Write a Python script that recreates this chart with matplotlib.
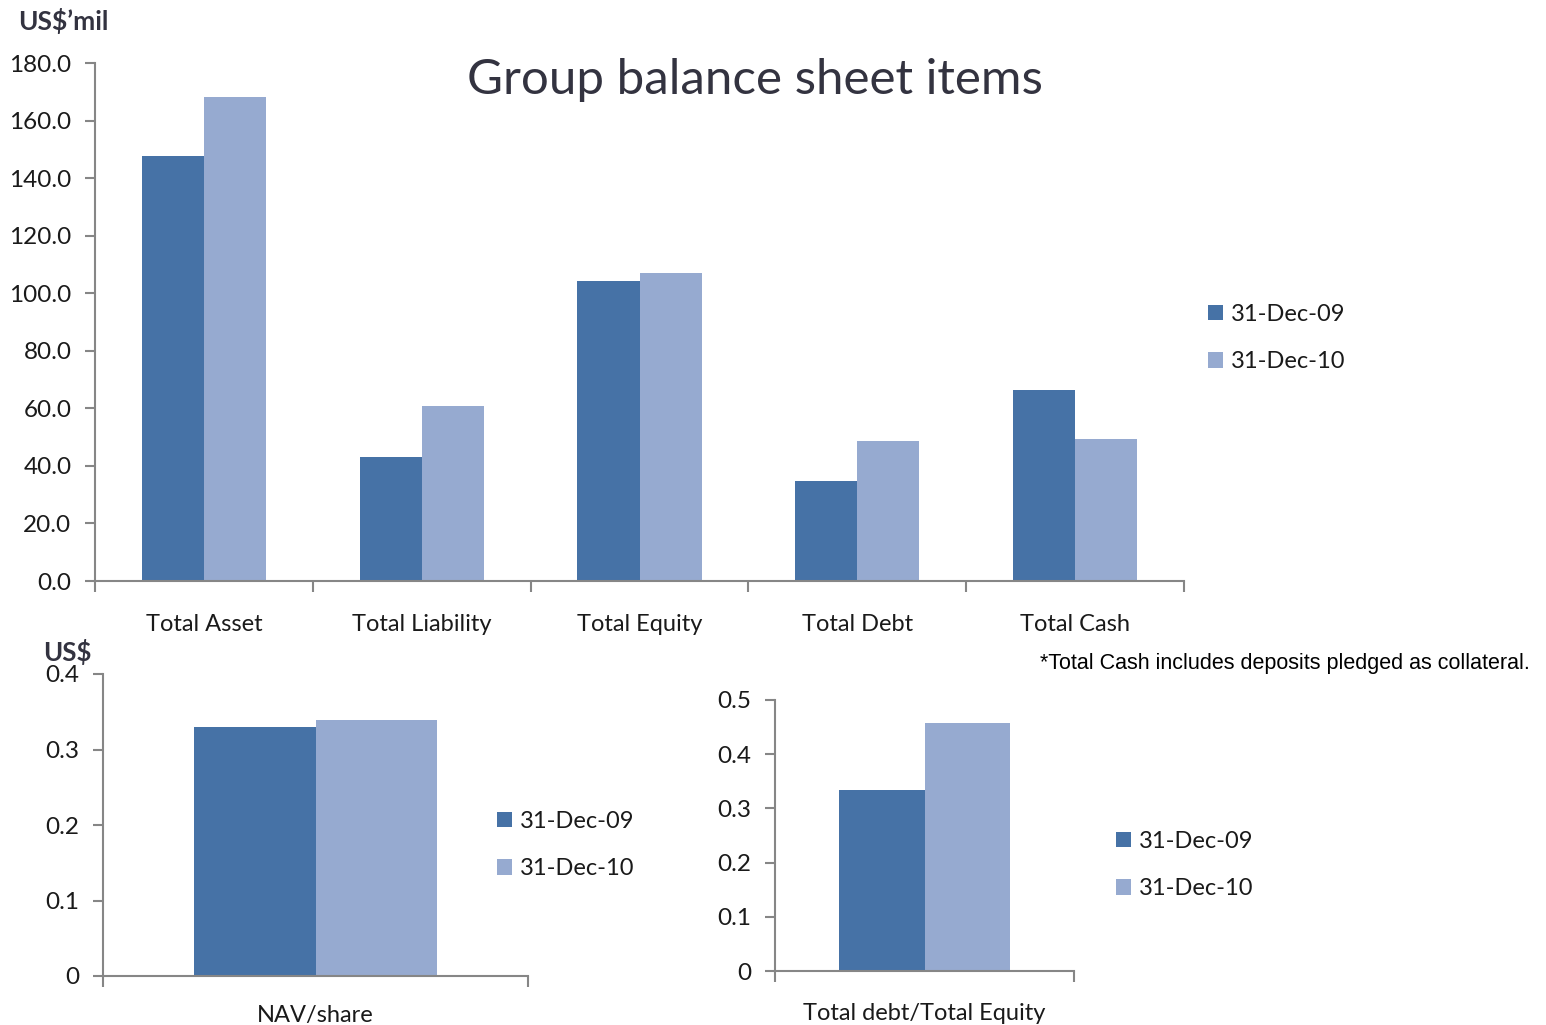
import matplotlib
matplotlib.use('Agg')
import matplotlib.pyplot as plt
import numpy as np

# data
categories = ['Total Asset', 'Total Liability', 'Total Equity', 'Total Debt', 'Total Cash']
dec09 = [147.7, 43.1, 104.2, 34.7, 66.4]
dec10 = [168.2, 60.8, 107.0, 48.6, 49.2]
series_names = ['31-Dec-09', '31-Dec-10']

nav_label = 'NAV/share'
nav_values = [0.330, 0.339]

gearing_label = 'Total debt/Total Equity'
gearing_values = [0.334, 0.458]

dark = '#4672A6'
light = '#96AAD0'
axis_grey = '#868686'
text_col = '#1A1A1A'

plt.rcParams['font.family'] = ['Lato', 'DejaVu Sans']
fs = 17
fs_tick = 17.5

fig = plt.figure(figsize=(15.46, 10.25), dpi=100)


def style_axes(ax):
    for s in ['top', 'right']:
        ax.spines[s].set_visible(False)
    for s in ['left', 'bottom']:
        ax.spines[s].set_color(axis_grey)
        ax.spines[s].set_linewidth(1.5)
    ax.tick_params(axis='y', direction='out', length=7, width=1.5, color=axis_grey,
                   labelsize=fs_tick, labelcolor=text_col, pad=10)


def add_legend(ax, x, y):
    ax.legend(series_names, loc='upper left', bbox_to_anchor=(x / 1546, 1 - y / 1025),
              bbox_transform=fig.transFigure, frameon=False, fontsize=fs,
              handlelength=0.65, handleheight=0.65, handletextpad=0.35,
              labelspacing=1.12, borderpad=0, labelcolor=text_col)


# top chart
ax = fig.add_axes([95 / 1546, 1 - 581 / 1025, 1089 / 1546, 518 / 1025])
x = np.arange(len(categories))
w = 0.285
ax.bar(x - w / 2, dec09, w, color=dark, edgecolor='none', label=series_names[0])
ax.bar(x + w / 2, dec10, w, color=light, edgecolor='none', label=series_names[1])
ax.set_xlim(-0.5, len(categories) - 0.5)
ax.set_ylim(0, 180)
ax.set_yticks(np.arange(0, 181, 20))
ax.set_yticklabels(['%.1f' % v for v in np.arange(0, 181, 20)])
ax.set_xticks(np.arange(-0.5, len(categories), 1))
ax.set_xticklabels([])
ax.set_xticks(x, minor=True)
ax.set_xticklabels(categories, minor=True)
ax.tick_params(axis='x', which='major', direction='out', length=8, width=1.5, color=axis_grey)
ax.tick_params(axis='x', which='minor', length=0, labelsize=fs, labelcolor=text_col, pad=24)
style_axes(ax)
add_legend(ax, 1196, 292)
fig.text(755 / 1546, 1 - 80 / 1025, 'Group balance sheet items', ha='center', va='center',
         fontsize=35.5, color='#333340')
fig.text(18 / 1546, 1 - 21 / 1025, 'US$\u2019mil', ha='left', va='center',
         fontsize=19, fontweight='bold', color='#333340')

# bottom left chart
ax2 = fig.add_axes([103 / 1546, 1 - 976 / 1025, 425 / 1546, 302 / 1025])
w2 = 0.287
ax2.bar(-w2 / 2, nav_values[0], w2, color=dark, edgecolor='none')
ax2.bar(w2 / 2, nav_values[1], w2, color=light, edgecolor='none')
ax2.set_xlim(-0.5, 0.5)
ax2.set_ylim(0, 0.4)
ax2.set_yticks([0, 0.1, 0.2, 0.3, 0.4])
ax2.set_yticklabels(['0', '0.1', '0.2', '0.3', '0.4'])
ax2.set_xticks([-0.5, 0.5])
ax2.set_xticklabels([])
ax2.set_xticks([0], minor=True)
ax2.set_xticklabels([nav_label], minor=True)
ax2.tick_params(axis='x', which='major', direction='out', length=8, width=1.5, color=axis_grey)
ax2.tick_params(axis='x', which='minor', length=0, labelsize=fs, labelcolor=text_col, pad=21)
style_axes(ax2)
add_legend(ax2, 485, 799)
fig.text(43 / 1546, 1 - 652 / 1025, 'US$', ha='left', va='center',
         fontsize=18.5, fontweight='bold', color='#333340')

# bottom right chart
ax3 = fig.add_axes([775 / 1546, 1 - 971 / 1025, 299 / 1546, 271 / 1025])
ax3.bar(-w2 / 2, gearing_values[0], w2, color=dark, edgecolor='none')
ax3.bar(w2 / 2, gearing_values[1], w2, color=light, edgecolor='none')
ax3.set_xlim(-0.5, 0.5)
ax3.set_ylim(0, 0.5)
ax3.set_yticks([0, 0.1, 0.2, 0.3, 0.4, 0.5])
ax3.set_yticklabels(['0', '0.1', '0.2', '0.3', '0.4', '0.5'])
ax3.set_xticks([-0.5, 0.5])
ax3.set_xticklabels([])
ax3.set_xticks([0], minor=True)
ax3.set_xticklabels([gearing_label], minor=True)
ax3.tick_params(axis='x', which='major', direction='out', length=8, width=1.5, color=axis_grey)
ax3.tick_params(axis='x', which='minor', length=0, labelsize=fs, labelcolor=text_col, pad=23)
style_axes(ax3)
add_legend(ax3, 1104, 819)

fig.text(1040 / 1546, 1 - 664 / 1025, '*Total Cash includes deposits pledged as collateral.',
         ha='left', va='center', fontsize=15.5, family='Liberation Sans', color='black')

fig.savefig('out.png', dpi=100)
